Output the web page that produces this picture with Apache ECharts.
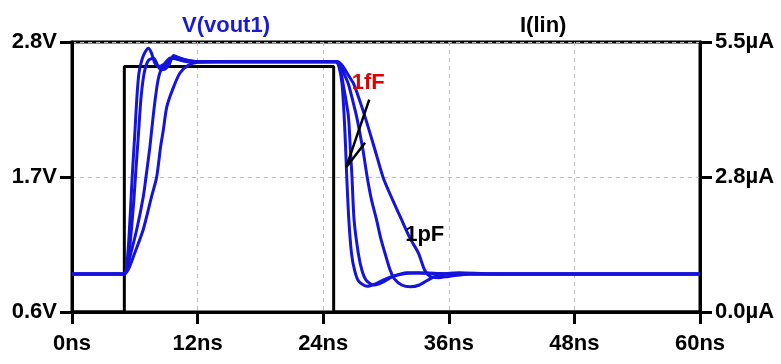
<!DOCTYPE html>
<html lang="en">
<head>
    <meta charset="UTF-8">
    <script src="https://cdn.jsdelivr.net/npm/echarts@6.0.0/dist/echarts.min.js"></script>
    <style>
        html, body { margin: 0; padding: 0; background: #fff; }
    </style>
</head>
<body>
<div id="chart" style="width: 781px;height: 364px"></div>
<script>
    // time axis ticks (ns), voltage ticks (V), current ticks (uA)
    var xTicks = [0, 12, 24, 36, 48, 60];
    var vTicks = [0.6, 1.7, 2.8];
    var iTicks = [0.0, 2.75, 5.5];

    // I(lin) input pulse, [ns, uA]
    var iLin = [[0, 0], [5, 0], [5, 5], [25, 5], [25, 0], [60, 0]];

    // V(vout1) for the stepped load capacitance, [ns, V]
    var vout1fF = [[0, 0.91], [5.0, 0.91], [5.2, 0.96], [5.4, 1.15], [5.6, 1.45], [5.75, 1.7], [6.0, 2.05], [6.2, 2.35],
        [6.4, 2.55], [6.7, 2.66], [7.0, 2.72], [7.3, 2.75], [7.6, 2.71], [7.9, 2.63], [8.3, 2.6], [8.8, 2.62],
        [9.4, 2.67], [10.0, 2.66], [11, 2.64], [25.2, 2.64], [25.5, 2.6], [25.8, 2.46], [26.0, 2.2], [26.15, 1.92],
        [26.25, 1.7], [26.45, 1.35], [26.7, 1.08], [27.0, 0.94], [27.4, 0.85], [28.2, 0.81], [29.0, 0.83],
        [30.0, 0.87], [31.0, 0.9], [33.0, 0.92], [36, 0.91], [60, 0.91]];
    var vout10fF = [[0, 0.91], [5.0, 0.91], [5.3, 0.97], [5.6, 1.2], [5.9, 1.5], [6.1, 1.75], [6.35, 2.05], [6.6, 2.35],
        [6.9, 2.55], [7.3, 2.65], [7.8, 2.67], [8.4, 2.58], [9.0, 2.62], [9.8, 2.68], [10.6, 2.66], [12, 2.64],
        [25.3, 2.64], [25.6, 2.6], [25.9, 2.46], [26.4, 2.2], [26.6, 1.92], [26.75, 1.7], [26.95, 1.35],
        [27.35, 1.08], [27.7, 0.94], [28.1, 0.86], [28.8, 0.82], [29.6, 0.84], [30.7, 0.89], [32, 0.92],
        [36, 0.91], [60, 0.91]];
    var vout100fF = [[0, 0.91], [5.0, 0.91], [5.3, 0.96], [5.54, 1.05], [6.18, 1.27], [6.81, 1.54], [7.07, 1.7],
        [7.45, 1.95], [7.61, 2.08], [7.9, 2.3], [8.2, 2.48], [8.5, 2.57], [8.9, 2.58], [9.3, 2.62], [9.7, 2.69],
        [10.3, 2.67], [11, 2.65], [12, 2.64], [25.3, 2.64], [25.7, 2.6], [26.1, 2.52], [26.4, 2.46], [26.8, 2.33],
        [27.2, 2.19], [27.8, 1.92], [28.2, 1.7], [28.6, 1.52], [29.1, 1.35], [29.5, 1.2], [29.9, 1.08],
        [30.4, 0.94], [30.8, 0.87], [31.5, 0.82], [32.3, 0.805], [33.2, 0.82], [34.2, 0.87], [35, 0.9],
        [37, 0.92], [40, 0.91], [60, 0.91]];
    var vout1pF = [[0, 0.91], [5.0, 0.91], [5.4, 0.95], [5.86, 1.05], [6.8, 1.27], [7.6, 1.54], [8.09, 1.7],
        [8.47, 1.95], [8.72, 2.08], [9.05, 2.27], [9.6, 2.41], [10.3, 2.545], [11.1, 2.61], [12, 2.635],
        [14, 2.64], [25.4, 2.64], [25.9, 2.6], [26.4, 2.53], [26.9, 2.46], [27.5, 2.32], [28.0, 2.19],
        [28.95, 1.92], [29.75, 1.69], [30.6, 1.52], [31.5, 1.35], [32.3, 1.2], [33.1, 1.08], [33.7, 0.94],
        [34.2, 0.89], [35, 0.88], [36, 0.89], [38, 0.91], [60, 0.91]];

    // annotation arrow and labels, [ns, V]
    var arrowPts = [[28.4, 2.33], [26.2, 1.78], [28.0, 1.98]];
    var capLabels = [
        {name: '1fF', value: [28.3, 2.47], color: '#e00000'},
        {name: '1pF', value: [33.7, 1.23], color: '#000'}
    ];

    var font = "'Liberation Sans Narrow', 'Arial Narrow', 'Liberation Sans', Arial, sans-serif";
    var blue = '#1414dc';

    var mychart = echarts.init(document.getElementById('chart'));

    var voutSeries = [vout1pF, vout100fF, vout10fF, vout1fF].map(function (d) {
        return {
            type: 'line',
            data: d,
            showSymbol: false,
            symbol: 'none',
            smooth: 0.25,
            lineStyle: {color: blue, width: 3},
            z: 5
        };
    });

    var labelStyle = {color: '#000', fontSize: 22, fontWeight: 'bold', fontFamily: font};

    var option = {
        animation: false,
        grid: {
            left: 72, right: 81, top: 42, bottom: 52,
            show: true, borderColor: '#000', borderWidth: 3
        },
        graphic: [
            {type: 'text', left: 182, top: 15,
                style: {text: 'V(vout1)', fill: '#1a1ad2', font: 'bold 22px ' + font}},
            {type: 'text', left: 520, top: 15,
                style: {text: 'I(lin)', fill: '#000', font: 'bold 22px ' + font}}
        ],
        xAxis: {
            type: 'value',
            min: xTicks[0], max: xTicks[xTicks.length - 1], interval: 12,
            axisLine: {lineStyle: {color: '#000', width: 3}},
            axisTick: {show: true, inside: false, length: 12, lineStyle: {color: '#000', width: 3}},
            axisLabel: Object.assign({
                formatter: function (v) { return v + 'ns'; }, margin: 21
            }, labelStyle),
            splitLine: {show: true, lineStyle: {color: '#bdbdbd', type: [4, 4], width: 1}}
        },
        yAxis: [{
            type: 'value',
            min: vTicks[0], max: vTicks[vTicks.length - 1], interval: 1.1,
            axisLine: {show: true, lineStyle: {color: '#000', width: 3}},
            axisTick: {show: true, inside: false, length: 12, lineStyle: {color: '#000', width: 3}},
            axisLabel: Object.assign({
                formatter: function (v) { return v.toFixed(1) + 'V'; }, margin: 15
            }, labelStyle),
            splitLine: {show: true, lineStyle: {color: '#bdbdbd', type: [4, 4], width: 1}}
        }, {
            type: 'value',
            position: 'right',
            min: iTicks[0], max: iTicks[iTicks.length - 1], interval: 2.75,
            axisLine: {show: true, lineStyle: {color: '#000', width: 3}},
            axisTick: {show: true, inside: false, length: 12, lineStyle: {color: '#000', width: 3}},
            axisLabel: Object.assign({
                formatter: function (v) { return v.toFixed(1) + 'µA'; }, margin: 15
            }, labelStyle),
            splitLine: {show: false}
        }],
        series: [{
            type: 'line',
            yAxisIndex: 1,
            data: iLin,
            showSymbol: false,
            symbol: 'none',
            lineStyle: {color: '#000', width: 3},
            z: 3
        }].concat(voutSeries).concat([{
            type: 'line',
            data: arrowPts,
            showSymbol: false,
            symbol: 'none',
            lineStyle: {color: '#000', width: 2.5},
            z: 6
        }, {
            type: 'scatter',
            symbolSize: 0,
            z: 7,
            data: capLabels.map(function (c) {
                return {
                    name: c.name, value: c.value,
                    label: Object.assign({}, labelStyle, {
                        show: true, position: 'inside', formatter: '{b}', color: c.color,
                        textBorderWidth: 0, opacity: 1
                    })
                };
            })
        }])
    };

    mychart.setOption(option);
</script>
</body>
</html>
